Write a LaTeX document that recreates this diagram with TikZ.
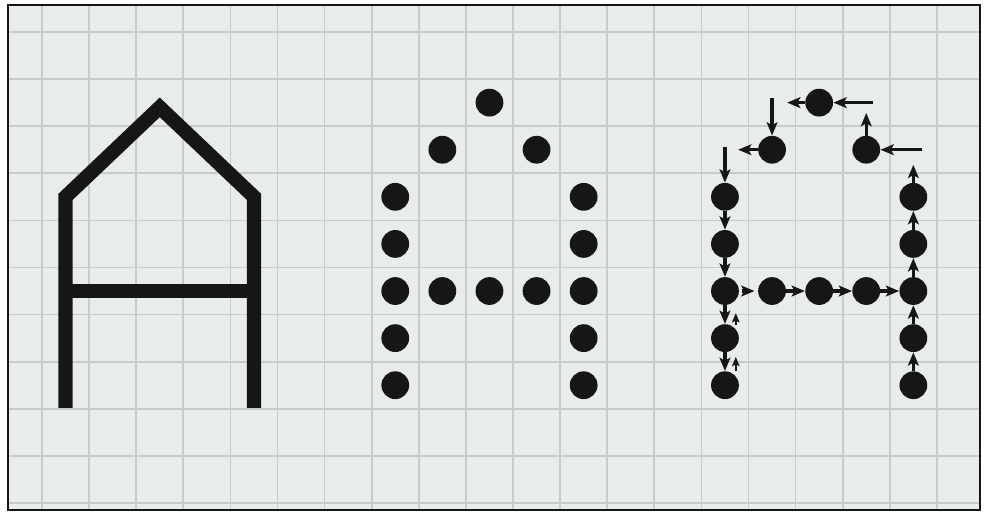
\documentclass[tikz,border=0pt]{standalone}
\definecolor{inkblack}{HTML}{161616}
\definecolor{papergray}{HTML}{E8ECEB}
\definecolor{gridgray}{HTML}{C6CCCC}
\usetikzlibrary{arrows.meta}
\tikzset{
    paperframe/.style={
        draw=inkblack,
        fill=papergray,
        line width=1.5pt
    },
    papergrid/.style={
        draw=gridgray,
        line width=1pt,
        step=1
    },
    letterstroke/.style={
        draw=inkblack,
        line width=8.6pt,
        line join=miter
    },
    letterdot/.style={
        circle,
        fill=inkblack,
        minimum size=0.59cm,
        inner sep=0pt
    },
    letterarrow/.style={
        -{Stealth[length=8pt,width=6.5pt,inset=1.8pt]},
        draw=inkblack,
        line width=1.9pt
    },
    returnarrow/.style={
        -{Stealth[length=5.5pt,width=4.5pt,inset=1pt]},
        draw=inkblack,
        line width=1.2pt
    }
}

\begin{document}
\begin{tikzpicture}
        \useasboundingbox (-0.892,0.679) rectangle (20.17,-10.212);
        % squared paper
        \draw[paperframe] (-0.72,0.57) rectangle (19.92,-10.15);
        \begin{scope}
            \clip (-0.72,0.57) rectangle (19.92,-10.15);
            \draw[papergrid] (-1,1) grid (20,-11);
        \end{scope}
        \draw[inkblack,line width=1.5pt] (-0.72,0.57) rectangle (19.92,-10.15);

        % letter as a line
        \draw[letterstroke] (0.5,-7.98) -- (0.5,-3.5) -- (2.5,-1.6)
            -- (4.5,-3.5) -- (4.5,-7.98);
        \draw[letterstroke,line cap=butt] (0.5,-5.5) -- (4.5,-5.5);

        % letter as dots, then as dots in order
        \foreach \c/\r in {3/1,2/2,4/2,1/3,5/3,1/4,5/4,1/5,2/5,3/5,4/5,5/5,
                           1/6,5/6,1/7,5/7} {
            \node[letterdot] (mid\c\r) at (6.5+\c,-0.5-\r) {};
            \node[letterdot] (trace\c\r) at (13.5+\c,-0.5-\r) {};
        }

        \coordinate (leftin) at (14.5,-2.45);
        \coordinate (leftout) at (14.78,-2.5);
        \coordinate (upin) at (15.5,-1.4);
        \coordinate (topout) at (15.82,-1.5);
        \coordinate (topin) at (17.65,-1.5);
        \coordinate (rightout) at (17.5,-1.72);
        \coordinate (rightin) at (18.68,-2.5);
        \coordinate (legout) at (18.5,-2.82);
        \coordinate (backa) at (14.73,-6.22);
        \coordinate (backb) at (14.73,-5.97);
        \coordinate (backc) at (14.73,-7.2);
        \coordinate (backd) at (14.73,-6.9);

        \draw[letterarrow] (leftin) -- (trace13);
        \draw[letterarrow] (trace13) -- (trace14);
        \draw[letterarrow] (trace14) -- (trace15);
        \draw[letterarrow] (trace15) -- (trace16);
        \draw[letterarrow] (trace16) -- (trace17);
        \draw[returnarrow] (backa) -- (backb);
        \draw[returnarrow] (backc) -- (backd);

        \draw[letterarrow,shorten <=1.5pt,shorten >=2pt] (trace15) -- (trace25);
        \draw[letterarrow] (trace25) -- (trace35);
        \draw[letterarrow] (trace35) -- (trace45);
        \draw[letterarrow] (trace45) -- (trace55);

        \draw[letterarrow] (trace57) -- (trace56);
        \draw[letterarrow] (trace56) -- (trace55);
        \draw[letterarrow] (trace55) -- (trace54);
        \draw[letterarrow] (trace54) -- (trace53);
        \draw[letterarrow] (trace53) -- (legout);

        \draw[letterarrow] (rightin) -- (trace42);
        \draw[letterarrow] (trace42) -- (rightout);
        \draw[letterarrow] (topin) -- (trace31);
        \draw[letterarrow] (trace31) -- (topout);
        \draw[letterarrow] (upin) -- (trace22);
        \draw[letterarrow] (trace22) -- (leftout);
    \end{tikzpicture}
\end{document}
